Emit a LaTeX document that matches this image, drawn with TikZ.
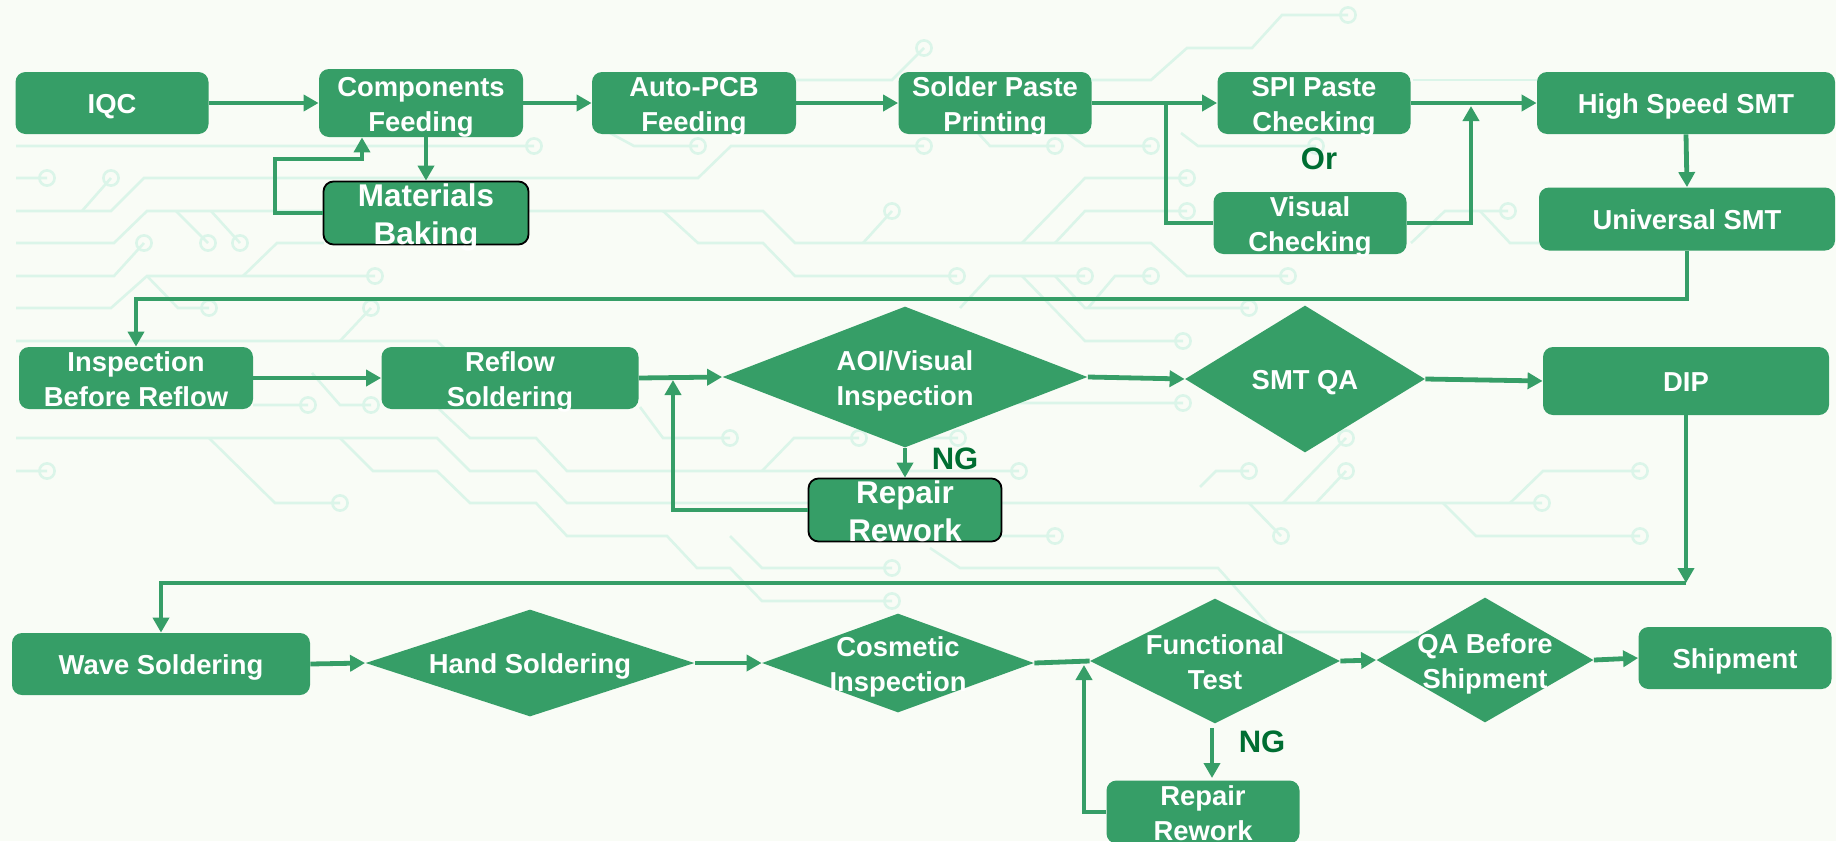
\documentclass[tikz,border=0pt]{standalone}
\usepackage{fontspec}
\setmainfont{Liberation Sans}
\usetikzlibrary{shapes.geometric,arrows.meta}
\definecolor{bx}{RGB}{54,158,103}
\definecolor{lbl}{RGB}{0,110,50}
\definecolor{bgc}{RGB}{249,252,246}
\definecolor{trc}{RGB}{219,245,233}
\tikzset{
  sz/.style 2 args={minimum width={#1*0.5pt},minimum height={#2*0.5pt}},
  box/.style={fill=bx,rounded corners=5pt,inner sep=0pt},
  bbox/.style={box,draw=black,line width=0.9pt},
  dia/.style={diamond,fill=bx,inner sep=0pt},
  tx/.style={text=white,font=\bfseries\fontsize{13.7}{17.5}\selectfont,align=center,inner sep=0pt},
  t1/.style={tx,text height=10pt,text depth=0pt},
  t2/.style={tx,yshift=-2.2pt,execute at end node={\rule[-3pt]{0pt}{3pt}}},
  big/.style={font=\bfseries\fontsize{15.7}{19}\selectfont},
  arr/.style={draw=bx,line width=2.4pt,-{Triangle[length=7.5pt,width=8pt]}},
  ln/.style={draw=bx,line width=2.4pt},
  lab/.style={text=lbl,font=\bfseries\fontsize{15.5}{18}\selectfont,inner sep=0pt},
  trace/.style={draw=trc,line width=1.3pt},
  rr/.style={radius=3.8pt}
}
\begin{document}
\begin{tikzpicture}[x=0.5pt,y=-0.5pt]
\useasboundingbox (0,0) rectangle (1836,841);
\fill[bgc] (0,0) rectangle (1836,841);

% ---- circuit background ----
\draw[trace] (1091,80)--(1151,80)--(1187,48)--(1252,48)--(1282,15)--(1348,15) circle[rr];
\draw[trace] (796,80)--(892,80)--(924,48) circle[rr];
\draw[trace] (1413,80)--(1539,80);
\draw[trace] (16,146)--(534,146) circle[rr];
\draw[trace] (16,211)--(111,211)--(144,178)--(698,178)--(731,146)--(924,146) circle[rr];
\draw[trace] (82,211)--(111,178) circle[rr];
\draw[trace] (16,178)--(47,178) circle[rr];
\draw[trace] (610,133)--(634,146)--(698,146) circle[rr];
\draw[trace] (978,133)--(990,146)--(1055,146) circle[rr];
\draw[trace] (1067,133)--(1085,146)--(1151,146) circle[rr];
\draw[trace] (1181,133)--(1198,146)--(1316,146) circle[rr];
\draw[trace] (1022,243)--(1085,178)--(1187,178) circle[rr];
\draw[trace] (1055,243)--(1085,211)--(1187,211) circle[rr];
\draw[trace] (1411,243)--(1445,211)--(1508,211) circle[rr];
\draw[trace] (1480,211)--(1510,243)--(1539,243);
\draw[trace] (16,243)--(114,243)--(147,211)--(763,211)--(795,243)--(1151,243)--(1187,276)--(1288,276) circle[rr];
\draw[trace] (176,211)--(208,243) circle[rr];
\draw[trace] (211,211)--(240,243) circle[rr];
\draw[trace] (663,211)--(698,243)--(763,243)--(795,276)--(957,276) circle[rr];
\draw[trace] (863,243)--(892,211) circle[rr];
\draw[trace] (243,276)--(277,243)--(324,243);
\draw[trace] (16,276)--(114,276)--(144,243) circle[rr];
\draw[trace] (16,308)--(111,308)--(147,276)--(375,276) circle[rr];
\draw[trace] (147,276)--(178,308)--(209,308) circle[rr];
\draw[trace] (340,341)--(371,308) circle[rr];
\draw[trace] (960,308)--(990,276)--(1085,276) circle[rr];
\draw[trace] (1088,308)--(1115,276)--(1151,276) circle[rr];
\draw[trace] (1055,276)--(1085,308)--(1249,308) circle[rr];
\draw[trace] (1022,276)--(1085,341)--(1183,341) circle[rr];
\draw[trace] (16,341)--(437,341)--(470,373)--(500,373);
\draw[trace] (312,373)--(340,405)--(371,405) circle[rr];
\draw[trace] (253,405)--(308,405) circle[rr];
\draw[trace] (900,403)--(1183,403) circle[rr];
\draw[trace] (16,438)--(437,438)--(470,471)--(536,471)--(567,503)--(1542,503) circle[rr];
\draw[trace] (439,409)--(470,438)--(536,438)--(567,471)--(1019,471) circle[rr];
\draw[trace] (340,438)--(373,471)--(437,471)--(470,503)--(536,503)--(567,536)--(667,536)--(697,568)--(730,568)--(762,601)--(892,601) circle[rr];
\draw[trace] (730,536)--(762,568)--(892,568) circle[rr];
\draw[trace] (209,438)--(275,503)--(340,503) circle[rr];
\draw[trace] (16,471)--(47,471) circle[rr];
\draw[trace] (640,407)--(663,438)--(730,438) circle[rr];
\draw[trace] (762,471)--(794,438)--(859,438) circle[rr];
\draw[trace] (924,438)--(958,438) circle[rr];
\draw[trace] (1283,503)--(1346,438) circle[rr];
\draw[trace] (1316,503)--(1346,471) circle[rr];
\draw[trace] (1200,487)--(1216,471)--(1249,471) circle[rr];
\draw[trace] (1510,503)--(1543,471)--(1640,471) circle[rr];
\draw[trace] (1249,503)--(1281,536) circle[rr];
\draw[trace] (1443,503)--(1476,536)--(1640,536) circle[rr];
\draw[trace] (956,536)--(1055,536) circle[rr];
\draw[trace] (930,548)--(960,568)--(1218,568)--(1275,632)--(1419,632);

% ---- nodes ----
\node[box,sz={193}{62}] (iqc) at (112,103) {};
\node[t1] (iqct) at (iqc) {IQC};
\node[box,sz={204}{68}] (comp) at (421,103) {};
\node[t2] (compt) at (comp) {Components\\Feeding};
\node[bbox,sz={205}{63}] (bake) at (426,213) {};
\node[t2,big] (baket) at (bake) {Materials\\Baking};
\node[box,sz={204}{62}] (auto) at (694,103) {};
\node[t2] (autot) at (auto) {Auto-PCB\\Feeding};
\node[box,sz={193}{62}] (solder) at (995,103) {};
\node[t2] (soldert) at (solder) {Solder Paste\\Printing};
\node[box,sz={193}{62}] (spi) at (1314,103) {};
\node[t2] (spit) at (spi) {SPI Paste\\Checking};
\node[box,sz={193}{62}] (vis) at (1310,223) {};
\node[t2] (vist) at (vis) {Visual\\Checking};
\node[lab] (or) at (1319,159) {Or};
\node[box,sz={298}{62}] (hss) at (1686,103) {};
\node[t1] (hsst) at (hss) {High Speed SMT};
\node[box,sz={296}{63}] (uni) at (1687,219) {};
\node[t1] (unit) at (uni) {Universal SMT};

\node[box,sz={234}{62}] (ibr) at (136,378) {};
\node[t2] (ibrt) at (ibr) {Inspection\\Before Reflow};
\node[box,sz={257}{62}] (reflow) at (510,378) {};
\node[t2] (reflowt) at (reflow) {Reflow\\Soldering};
\node[dia,sz={365}{141}] (aoi) at (905,377) {};
\node[t2] (aoit) at (aoi) {AOI/Visual\\Inspection};
\node[bbox,sz={193}{63}] (rep1) at (905,510) {};
\node[t2,big] (rep1t) at (rep1) {Repair\\Rework};
\node[lab] (ng1) at (955,459) {NG};
\node[dia,sz={240}{147}] (smtqa) at (1305,379) {};
\node[t1] (smtqat) at (smtqa) {SMT QA};
\node[box,sz={286}{68}] (dip) at (1686,381) {};
\node[t1] (dipt) at (dip) {DIP};

\node[box,sz={298}{62}] (wave) at (161,664) {};
\node[t1] (wavet) at (wave) {Wave Soldering};
\node[dia,sz={329}{107}] (hand) at (530,663) {};
\node[t1] (handt) at (hand) {Hand Soldering};
\node[dia,sz={272}{99}] (cosm) at (898,663) {};
\node[t2] (cosmt) at (cosm) {Cosmetic\\Inspection};
\node[dia,sz={250}{125}] (func) at (1215,661) {};
\node[t2] (funct) at (func) {Functional\\Test};
\node[dia,sz={217}{125}] (qabs) at (1485,660) {};
\node[t2] (qabst) at (qabs) {QA Before\\Shipment};
\node[box,sz={193}{62}] (ship) at (1735,658) {};
\node[t1] (shipt) at (ship) {Shipment};
\node[box,sz={193}{63}] (rep2) at (1203,812) {};
\node[t2] (rep2t) at (rep2) {Repair\\Rework};
\node[lab] (ng2) at (1262,742) {NG};

% ---- connectors ----
\draw[arr] (iqc.east) -- (comp.west);
\draw[arr] (comp.east) -- (auto.west);
\draw[arr] (auto.east) -- (solder.west);
\draw[arr] (solder.east) -- (spi.west);
\coordinate (b1) at (1166,103);
\draw[ln] (b1) |- (vis.west);
\draw[arr] (spi.east) -- (hss.west);
\coordinate (j1) at (1471,106);
\draw[arr] (vis.east) -| (j1);
\draw[arr] (bake.north |- comp.south) -- (bake.north);
\coordinate (k1) at (275,213);
\coordinate (k2) at (362,159);
\draw[arr] (bake.west) -- (k1) |- (k2) -- (k2 |- comp.south);
\draw[arr] (hss.south) -- (uni.north);
\coordinate (c1) at (1687,299);
\draw[arr] (uni.south) -- (c1) -| (ibr.north);
\draw[arr] (ibr.east) -- (reflow.west);
\draw[arr] (reflow.east) -- (aoi.west);
\draw[arr] (aoi.south) -- (rep1.north);
\coordinate (j2) at (673,380);
\draw[arr] (rep1.west) -| (j2);
\draw[arr] (aoi.east) -- (smtqa.west);
\draw[arr] (smtqa.east) -- (dip.west);
\coordinate (c2) at (1686,583);
\draw[arr] (dip.south) -- (c2);
\draw[arr] (c2) -| (wave.north);
\draw[arr] (wave.east) -- (hand.west);
\draw[arr] (hand.east) -- (cosm.west);
\draw[ln] (cosm.east) -- (func.west);
\draw[arr] (func.east) -- (qabs.west);
\draw[arr] (qabs.east) -- (ship.west);
\coordinate (n2a) at (1212,728);
\coordinate (n2b) at (1212,778);
\draw[arr] (n2a) -- (n2b);
\coordinate (j3) at (1084,665);
\draw[arr] (rep2.west) -| (j3);
\end{tikzpicture}
\end{document}
